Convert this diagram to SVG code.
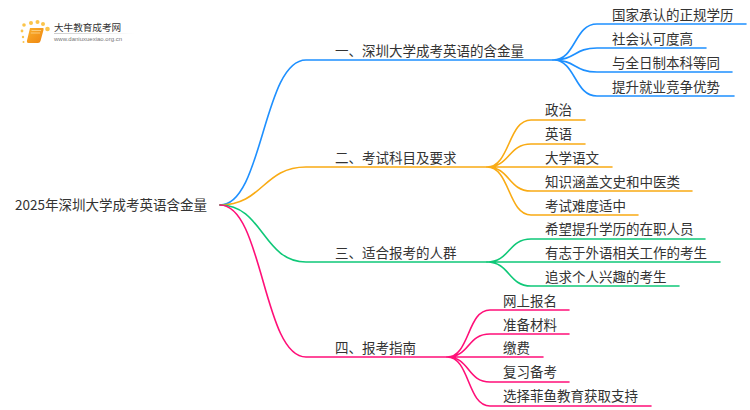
<svg xmlns="http://www.w3.org/2000/svg" width="750" height="410" viewBox="0 0 750 410">
<style>
text{font-family:"Noto Sans CJK SC","Liberation Sans",sans-serif;font-size:13.5px;fill:#333}
.c{fill:none;stroke-width:1.6;stroke-linecap:round}
.b{stroke:#1e90ff}.o{stroke:#f9ab14}.g{stroke:#0fc878}.p{stroke:#ff0f78}
.d{fill:#fbc44a}
</style>
<defs>
<linearGradient id="fade" x1="0" x2="1" y1="0" y2="0"><stop offset="0" stop-color="#ccc"/><stop offset="1" stop-color="#fff"/></linearGradient>
<linearGradient id="bk" x1="0" x2="1" y1="0" y2="1"><stop offset="0" stop-color="#fbb02c"/><stop offset="1" stop-color="#ee8510"/></linearGradient>
</defs>
<rect width="750" height="410" fill="#fff"/>
<g id="logo">
<circle class="d" cx="24" cy="25" r="1.800"/><circle class="d" cx="22" cy="31" r="1.400"/><circle class="d" cx="23" cy="37" r="1.200"/><circle class="d" cx="23.500" cy="42" r="1"/>
<circle class="d" cx="31" cy="23" r="2"/><circle class="d" cx="37.500" cy="22" r="2"/><circle class="d" cx="43" cy="24" r="2"/><circle class="d" cx="47.500" cy="29" r="2.300"/>
<path d="M30 28H43Q44 28 43.500 30L40.500 41Q40 43 38 43H28.500Q26.500 43 27 40.500Z" fill="url(#bk)"/>
<path d="M31.500 30.500H41M30.800 33H40" stroke="#fde0a0" stroke-width=".7" fill="none"/>
<text x="54" y="31" style="font-size:9.600px">大牛教育成考网</text>
<rect x="54" y="33" width="80" height="1" fill="url(#fade)"/>
<text x="54" y="41" style="font-size:6px;font-family:'Liberation Sans',sans-serif;fill:#777">www.daniuxuexiao.org.cn</text>
</g>
<g id="connectors">
<path class="c b" d="M220 205C263 205 263 60 306 60H553"/>
<path class="c o" d="M220 205C263 205 263 167 306 167H487"/>
<path class="c g" d="M220 205C263 205 263 262 306 262H487"/>
<path class="c p" d="M220 205C263 205 263 357 306 357H447"/>
<path class="c b" d="M553 60C576 60 574 24 597 24H746M553 60C576 60 574 48 597 48H706M553 60C576 60 574 72 597 72H732M553 60C576 60 574 96 597 96H734"/>
<path class="c o" d="M487 167C510 167 508 120 531 120H585M487 167C510 167 508 144 531 144H585M487 167H612M487 167C510 167 508 191 531 191H692M487 167C510 167 508 215 531 215H638"/>
<path class="c g" d="M487 262C510 262 508 239 531 239H705M487 262H720M487 262C510 262 508 286 531 286H679"/>
<path class="c p" d="M447 357C470 357 467 310 490 310H569M447 357C470 357 467 334 490 334H569M447 357H543M447 357C470 357 467 382 490 382H569M447 357C470 357 467 406 490 406H651"/>
</g>
<g id="root"><text x="15" y="210">2025年深圳大学成考英语含金量</text></g>
<g id="n1"><text x="335" y="56">一、深圳大学成考英语的含金量</text></g>
<g id="n2"><text x="335" y="163">二、考试科目及要求</text></g>
<g id="n3"><text x="335" y="258">三、适合报考的人群</text></g>
<g id="n4"><text x="335" y="353">四、报考指南</text></g>
<g id="n1-1"><text x="612" y="20">国家承认的正规学历</text></g>
<g id="n1-2"><text x="612" y="44">社会认可度高</text></g>
<g id="n1-3"><text x="612" y="68">与全日制本科等同</text></g>
<g id="n1-4"><text x="612" y="92">提升就业竞争优势</text></g>
<g id="n2-1"><text x="545" y="115">政治</text></g>
<g id="n2-2"><text x="545" y="139">英语</text></g>
<g id="n2-3"><text x="545" y="163">大学语文</text></g>
<g id="n2-4"><text x="545" y="187">知识涵盖文史和中医类</text></g>
<g id="n2-5"><text x="545" y="211">考试难度适中</text></g>
<g id="n3-1"><text x="545" y="234">希望提升学历的在职人员</text></g>
<g id="n3-2"><text x="545" y="258">有志于外语相关工作的考生</text></g>
<g id="n3-3"><text x="545" y="282">追求个人兴趣的考生</text></g>
<g id="n4-1"><text x="503" y="306">网上报名</text></g>
<g id="n4-2"><text x="503" y="330">准备材料</text></g>
<g id="n4-3"><text x="503" y="353">缴费</text></g>
<g id="n4-4"><text x="503" y="377">复习备考</text></g>
<g id="n4-5"><text x="503" y="401">选择菲鱼教育获取支持</text></g>
</svg>
